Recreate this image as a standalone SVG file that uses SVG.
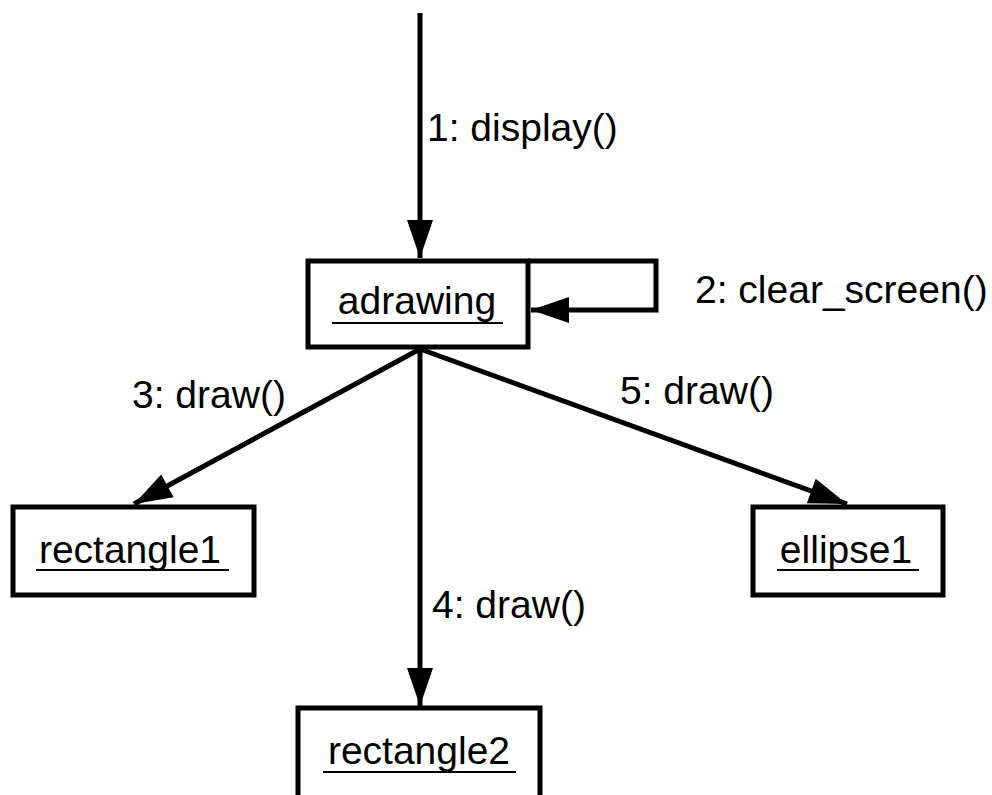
<svg xmlns="http://www.w3.org/2000/svg" width="992" height="795" viewBox="0 0 992 795">
<style>
.box{fill:#fff;stroke:#000;stroke-width:5}
.lbl{font-family:"Liberation Sans",Arial,sans-serif;font-size:39px;fill:#000}
.name{font-family:"Liberation Sans",Arial,sans-serif;font-size:39px;fill:#000;text-anchor:middle}
.ul{stroke:#000;stroke-width:2}
.conn{fill:none;stroke:#000;stroke-width:5}
</style>
<defs>
<marker id="ah" markerUnits="userSpaceOnUse" markerWidth="40" markerHeight="28" refX="38" refY="13" orient="auto" overflow="visible">
<path d="M0,0 L38,13 L0,26 z" fill="#000"/>
</marker>
</defs>
<rect width="992" height="795" fill="#fff"/>
<g id="connectors">
<line class="conn" x1="420" y1="13" x2="420" y2="258" marker-end="url(#ah)"/>
<path class="conn" d="M528,261 H656 V310 H531" marker-end="url(#ah)"/>
<line class="conn" x1="420" y1="349" x2="134" y2="504" marker-end="url(#ah)"/>
<line class="conn" x1="420" y1="349" x2="420" y2="706" marker-end="url(#ah)"/>
<line class="conn" x1="420" y1="349" x2="847" y2="504" marker-end="url(#ah)"/>
<text class="lbl" x="427" y="141">1: display()</text>
<text class="lbl" x="695" y="303">2: clear_screen()</text>
<text class="lbl" x="132" y="408">3: draw()</text>
<text class="lbl" x="432" y="618">4: draw()</text>
<text class="lbl" x="620" y="404">5: draw()</text>
</g>
<g id="adrawing">
<rect class="box" x="308" y="261" width="220" height="86"/>
<text class="name" x="417" y="314">adrawing</text>
<line class="ul" x1="332" y1="323" x2="503" y2="323"/>
</g>
<g id="rectangle1">
<rect class="box" x="13" y="507" width="241" height="88"/>
<text class="name" x="130" y="563">rectangle1</text>
<line class="ul" x1="36" y1="570" x2="229" y2="570"/>
</g>
<g id="ellipse1">
<rect class="box" x="753" y="507" width="190" height="88"/>
<text class="name" x="846" y="563">ellipse1</text>
<line class="ul" x1="777" y1="570" x2="919" y2="570"/>
</g>
<g id="rectangle2">
<rect class="box" x="298" y="708" width="242" height="100"/>
<text class="name" x="419" y="764">rectangle2</text>
<line class="ul" x1="323" y1="772" x2="516" y2="772"/>
</g>
</svg>
